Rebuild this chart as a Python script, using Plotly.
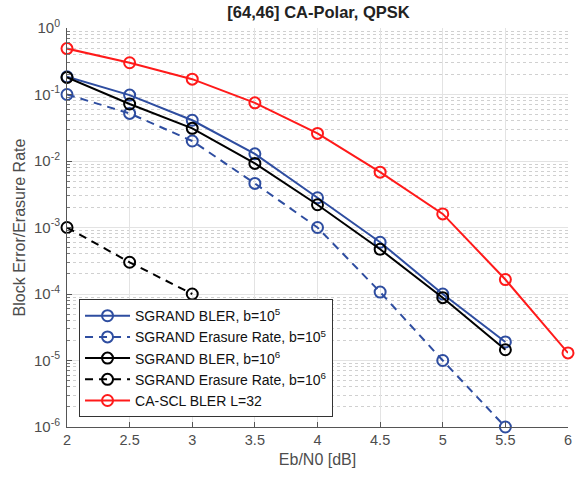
import plotly.graph_objects as go

snr = [2, 2.5, 3, 3.5, 4, 4.5, 5, 5.5]
snr_red = [2, 2.5, 3, 3.5, 4, 4.5, 5, 5.5, 6]
snr_er6 = [2, 2.5, 3]

bler_b5 = [0.185, 0.098, 0.041, 0.0128, 0.0028, 6.0e-4, 1.0e-4, 1.9e-5]
er_b5 = [0.1, 0.052, 0.020, 0.0046, 1.0e-3, 1.07e-4, 1.0e-5, 1.0e-6]
bler_b6 = [0.18, 0.072, 0.031, 0.0092, 0.0022, 4.7e-4, 8.8e-5, 1.45e-5]
er_b6 = [1e-3, 3e-4, 1e-4]
scl = [0.49, 0.30, 0.17, 0.075, 0.026, 0.0068, 0.0016, 1.65e-4, 1.3e-5]

names = ["SGRAND BLER, b=10<sup>5</sup>",
         "SGRAND Erasure Rate, b=10<sup>5</sup>",
         "SGRAND BLER, b=10<sup>6</sup>",
         "SGRAND Erasure Rate, b=10<sup>6</sup>",
         "CA-SCL BLER L=32"]

xticks = [2, 2.5, 3, 3.5, 4, 4.5, 5, 5.5, 6]
xticktext = ["2", "2.5", "3", "3.5", "4", "4.5", "5", "5.5", "6"]
yticks = [1, 1e-1, 1e-2, 1e-3, 1e-4, 1e-5, 1e-6]
yticktext = ["10<sup>0</sup>", "10<sup>-1</sup>", "10<sup>-2</sup>", "10<sup>-3</sup>",
             "10<sup>-4</sup>", "10<sup>-5</sup>", "10<sup>-6</sup>"]

BLUE = "#2E4DA0"
RED = "#FF1A1A"
BLACK = "#000000"

series = [
    (snr, bler_b5, names[0], BLUE, "solid"),
    (snr, er_b5, names[1], BLUE, "8px,6px"),
    (snr, bler_b6, names[2], BLACK, "solid"),
    (snr_er6, er_b6, names[3], BLACK, "8px,6px"),
    (snr_red, scl, names[4], RED, "solid"),
]

fig = go.Figure()
for x, y, name, color, dash in series:
    fig.add_trace(go.Scatter(
        x=x, y=y, name=name, mode="lines+markers",
        line=dict(color=color, width=2, dash=dash),
        marker=dict(symbol="circle-open", size=11, color=color, line=dict(width=2, color=color)),
        cliponaxis=False,
    ))

FONT = "Liberation Sans, Arial, sans-serif"

fig.update_layout(
    width=576, height=477,
    margin=dict(l=67, r=4, t=28, b=50),
    paper_bgcolor="white", plot_bgcolor="white",
    font=dict(family=FONT, size=14, color="#222"),
    title=dict(text="<b>[64,46] CA-Polar, QPSK</b>", x=0.553, xanchor="center", y=0.975, yanchor="middle",
               font=dict(size=16.5, color="#222")),
    showlegend=True,
    legend=dict(x=0.024, y=0.3205, xanchor="left", yanchor="top",
                bgcolor="white", bordercolor="#333", borderwidth=1,
                font=dict(size=14, color="#111"), itemwidth=45, tracegroupgap=0),
    xaxis=dict(
        range=[2, 6], tickvals=xticks, ticktext=xticktext,
        showline=True, linecolor="#555", linewidth=1,
        ticks="inside", ticklen=5, tickcolor="#555",
        showgrid=True, gridcolor="#e3e3e3", gridwidth=1,
        zeroline=False, tickfont=dict(family=FONT, size=14.5, color="#4d4d4d"),
        ticklabeloverflow="allow",
        title=dict(text="Eb/N0 [dB]", font=dict(size=16, color="#4d4d4d"), standoff=6),
    ),
    yaxis=dict(
        type="log", range=[-6, 0], tickvals=yticks, ticktext=yticktext,
        showline=True, linecolor="#555", linewidth=1,
        ticks="inside", ticklen=5, tickcolor="#555",
        showgrid=True, gridcolor="#e3e3e3", gridwidth=1,
        zeroline=False, tickfont=dict(family=FONT, size=15, color="#4d4d4d"),
        ticklabelstandoff=3,
        minor=dict(dtick="D1", ticks="inside", ticklen=3, tickcolor="#777",
                   showgrid=True, gridcolor="#d0d0d0", griddash="dot", gridwidth=1),
        title=dict(text="Block Error/Erasure Rate", font=dict(size=16, color="#4d4d4d"), standoff=4),
    ),
)

fig.write_html("out.html")
